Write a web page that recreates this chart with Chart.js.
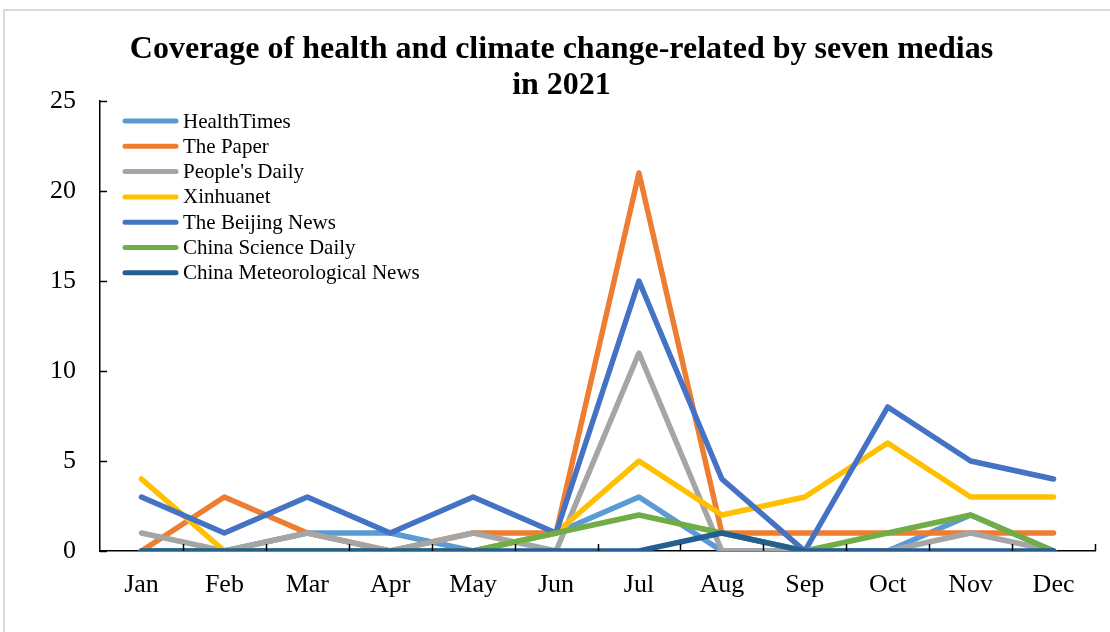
<!DOCTYPE html>
<html>
<head>
<meta charset="utf-8">
<script src="https://cdn.jsdelivr.net/npm/chart.js@4.4.1/dist/chart.umd.min.js"></script>
<style>
  body { margin: 0; background: #fff; }
  #wrap { width: 1110px; height: 632px; position: relative; }
</style>
</head>
<body>
<div id="wrap"><canvas id="mediaChart"></canvas></div>
<script>
const months = ["Jan", "Feb", "Mar", "Apr", "May", "Jun", "Jul", "Aug", "Sep", "Oct", "Nov", "Dec"];
const yTicks = [0, 5, 10, 15, 20, 25];

const healthTimes   = [0, 0, 1, 1, 0, 1, 3, 0, 0, 0, 2, 0];
const thePaper      = [0, 3, 1, 0, 1, 1, 21, 1, 1, 1, 1, 1];
const peoplesDaily  = [1, 0, 1, 0, 1, 0, 11, 0, 0, 0, 1, 0];
const xinhuanet     = [4, 0, 0, 0, 0, 1, 5, 2, 3, 6, 3, 3];
const beijingNews   = [3, 1, 3, 1, 3, 1, 15, 4, 0, 8, 5, 4];
const scienceDaily  = [0, 0, 0, 0, 0, 1, 2, 1, 0, 1, 2, 0];
const meteoNews     = [0, 0, 0, 0, 0, 0, 0, 1, 0, 0, 0, 0];

const seriesNames = ["HealthTimes", "The Paper", "People's Daily", "Xinhuanet",
  "The Beijing News", "China Science Daily", "China Meteorological News"];
const seriesData = [healthTimes, thePaper, peoplesDaily, xinhuanet, beijingNews, scienceDaily, meteoNews];
const seriesColors = ["#5B9BD5", "#ED7D31", "#A5A5A5", "#FFC000", "#4472C4", "#70AD47", "#255E91"];

const serif = "'Liberation Serif', 'Times New Roman', serif";

// later series sit on top, like the office chart
const datasets = seriesNames.map(function (name, i) {
  return {
    label: name,
    data: seriesData[i],
    borderColor: seriesColors[i],
    backgroundColor: seriesColors[i],
    borderWidth: 5.5,
    pointRadius: 0,
    tension: 0,
    borderCapStyle: "round",
    borderJoinStyle: "round",
    order: seriesNames.length - i,
  };
});

// light frame round the whole chart
const framePlugin = {
  id: "frame",
  beforeDraw: function (chart) {
    const c = chart.ctx;
    c.save();
    c.fillStyle = "#fff";
    c.fillRect(0, 0, chart.width, chart.height);
    c.strokeStyle = "#d9d9d9";
    c.lineWidth = 2;
    c.strokeRect(4, 10, chart.width + 20, chart.height + 20);
    c.restore();
  },
};

// tick marks pointing into the plot area
const innerTicks = {
  id: "innerTicks",
  afterDraw: function (chart) {
    const c = chart.ctx;
    const x = chart.scales.x, y = chart.scales.y;
    const area = chart.chartArea;
    c.save();
    c.strokeStyle = "#000";
    c.lineWidth = 1.5;
    c.beginPath();
    yTicks.forEach(function (v) {
      const py = Math.round(y.getPixelForValue(v)) + 0.5;
      c.moveTo(area.left, py);
      c.lineTo(area.left + 7, py);
    });
    const step = (area.right - area.left) / months.length;
    for (let i = 1; i <= months.length; i++) {
      const px = Math.round(area.left + i * step) + 0.5;
      c.moveTo(px, area.bottom);
      c.lineTo(px, area.bottom - 7);
    }
    c.stroke();
    c.restore();
  },
};

// single-column legend inside the top left of the plot
const boxLegend = {
  id: "boxLegend",
  afterDraw: function (chart) {
    const c = chart.ctx;
    c.save();
    c.font = "21px " + serif;
    c.textBaseline = "middle";
    c.fillStyle = "#000";
    chart.data.datasets.forEach(function (ds, i) {
      const ly = 121 + i * 25.3;
      c.strokeStyle = ds.borderColor;
      c.lineWidth = 5;
      c.lineCap = "round";
      c.beginPath();
      c.moveTo(125, ly);
      c.lineTo(176, ly);
      c.stroke();
      c.fillText(ds.label, 183, ly + 1);
    });
    c.restore();
  },
};

new Chart(document.getElementById("mediaChart"), {
  type: "line",
  data: { labels: months, datasets: datasets },
  plugins: [framePlugin, innerTicks, boxLegend],
  options: {
    responsive: true,
    maintainAspectRatio: false,
    animation: false,
    layout: { padding: { left: 28, right: 15, top: 0, bottom: 0 } },
    plugins: {
      legend: { display: false },
      tooltip: { enabled: false },
      title: {
        display: true,
        text: ["Coverage of health and climate change-related by seven medias", "in 2021"],
        color: "#000",
        font: { family: serif, size: 32, weight: "bold", lineHeight: 1.125 },
        padding: { top: 32, bottom: -3 },
      },
    },
    scales: {
      x: {
        offset: true,
        grid: { display: false, drawTicks: false },
        border: { display: true, color: "#000", width: 1.5 },
        ticks: { color: "#000", padding: 19, font: { family: serif, size: 26 } },
        afterFit: function (scale) { scale.height = 81; },
      },
      y: {
        min: 0,
        max: 25,
        afterBuildTicks: function (scale) {
          scale.ticks = yTicks.map(function (v) { return { value: v }; });
        },
        grid: { display: false, drawTicks: false },
        border: { display: true, color: "#000", width: 1.5 },
        ticks: { color: "#000", padding: 24, font: { family: serif, size: 26 } },
        afterFit: function (scale) { scale.width = 72; },
      },
    },
  },
});
</script>
</body>
</html>
